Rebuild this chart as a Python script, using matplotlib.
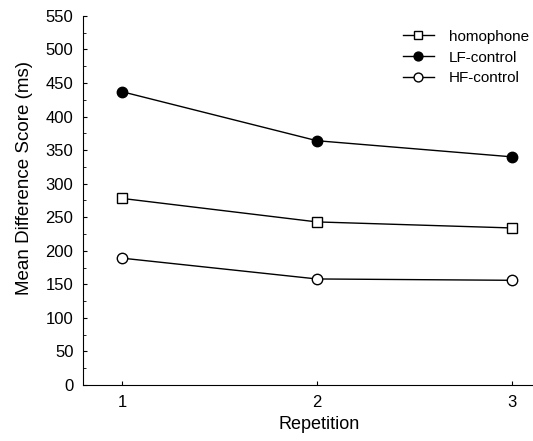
import matplotlib.pyplot as plt
from matplotlib.ticker import MultipleLocator

plt.rcParams['font.family'] = ['Liberation Sans', 'DejaVu Sans']

repetition = [1, 2, 3]
homophone = [278, 243, 234]
lf_control = [437, 364, 340]
hf_control = [189, 158, 156]
yticks = list(range(0, 551, 50))

fig = plt.figure(figsize=(5.33, 4.41), dpi=100)
ax = fig.add_axes([0.156, 0.127, 0.844, 0.837])

ax.plot(repetition, homophone, 'k-', marker='s', mfc='white', mec='black',
        ms=7.5, lw=1, label='homophone')
ax.plot(repetition, lf_control, 'k-', marker='o', mfc='black', mec='black',
        ms=7.5, lw=1, label='LF-control')
ax.plot(repetition, hf_control, 'k-', marker='o', mfc='white', mec='black',
        ms=7.5, lw=1, label='HF-control')

ax.set_xlim(0.8, 3.11)
ax.set_ylim(0, 550)
ax.set_xticks(repetition)
ax.set_yticks(yticks)
ax.yaxis.set_minor_locator(MultipleLocator(25))
ax.spines['top'].set_visible(False)
ax.spines['right'].set_visible(False)
ax.tick_params(direction='in', length=3, labelsize=12, pad=7)
ax.tick_params(which='minor', direction='in', length=2)
ax.set_xlabel('Repetition', fontsize=13)
ax.set_ylabel('Mean Difference Score (ms)', fontsize=13.5)
ax.yaxis.set_label_coords(-0.112, 0.56)
ax.xaxis.set_label_coords(0.524, -0.085)

ax.legend(loc='upper right', frameon=False, fontsize=11, handlelength=2.0,
          handletextpad=1.0, labelspacing=0.45, markerscale=0.85,
          bbox_to_anchor=(1.022, 1.0))

fig.savefig('out.png', dpi=100)
